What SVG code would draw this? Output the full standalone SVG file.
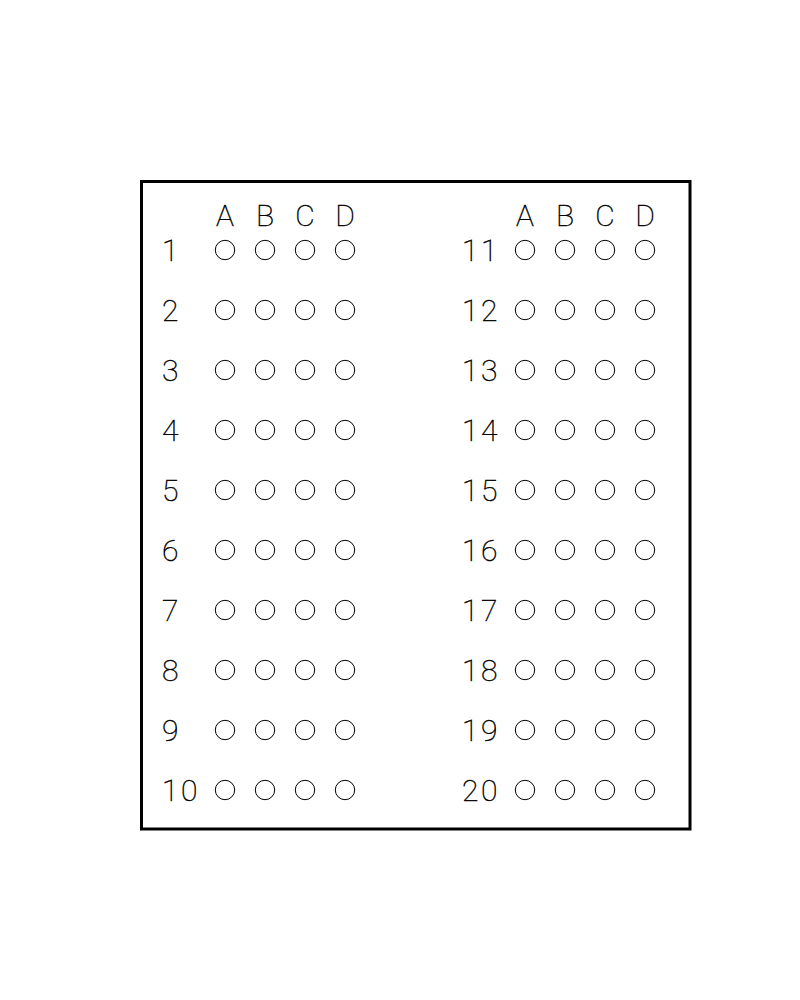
<svg xmlns="http://www.w3.org/2000/svg" width="800" height="1000" viewBox="0 0 800 1000">
<style>
.t{font-family:"Roboto","DejaVu Sans","Liberation Sans",sans-serif;font-weight:100;font-size:30px;fill:#000;stroke:#000;stroke-width:0.45}
.h{text-anchor:middle}
.n{letter-spacing:2.5px}
.b{fill:none;stroke:#000;stroke-width:1}
</style>
<defs>
<g id="bubbles">
<circle class="b" cx="0" cy="0" r="9.7"/>
<circle class="b" cx="40" cy="0" r="9.7"/>
<circle class="b" cx="80" cy="0" r="9.7"/>
<circle class="b" cx="120" cy="0" r="9.7"/>
</g>
</defs>
<rect width="800" height="1000" fill="#fff"/>
<rect id="frame" x="141.5" y="181.5" width="548.5" height="647.5" fill="none" stroke="#000" stroke-width="3"/>
<g id="header-left">
<text class="t h" x="225" y="226">A</text><text class="t h" x="265" y="226">B</text><text class="t h" x="305" y="226">C</text><text class="t h" x="345" y="226">D</text>
</g>
<g id="header-right">
<text class="t h" x="525" y="226">A</text><text class="t h" x="565" y="226">B</text><text class="t h" x="605" y="226">C</text><text class="t h" x="645" y="226">D</text>
</g>
<g id="q1"><text class="t n" x="162" y="261">1</text><use href="#bubbles" x="225" y="250"/></g>
<g id="q2"><text class="t n" x="162" y="321">2</text><use href="#bubbles" x="225" y="310"/></g>
<g id="q3"><text class="t n" x="162" y="381">3</text><use href="#bubbles" x="225" y="370"/></g>
<g id="q4"><text class="t n" x="162" y="441">4</text><use href="#bubbles" x="225" y="430"/></g>
<g id="q5"><text class="t n" x="162" y="501">5</text><use href="#bubbles" x="225" y="490"/></g>
<g id="q6"><text class="t n" x="162" y="561">6</text><use href="#bubbles" x="225" y="550"/></g>
<g id="q7"><text class="t n" x="162" y="621">7</text><use href="#bubbles" x="225" y="610"/></g>
<g id="q8"><text class="t n" x="162" y="681">8</text><use href="#bubbles" x="225" y="670"/></g>
<g id="q9"><text class="t n" x="162" y="741">9</text><use href="#bubbles" x="225" y="730"/></g>
<g id="q10"><text class="t n" x="162" y="801">10</text><use href="#bubbles" x="225" y="790"/></g>
<g id="q11"><text class="t n" x="462" y="261">11</text><use href="#bubbles" x="525" y="250"/></g>
<g id="q12"><text class="t n" x="462" y="321">12</text><use href="#bubbles" x="525" y="310"/></g>
<g id="q13"><text class="t n" x="462" y="381">13</text><use href="#bubbles" x="525" y="370"/></g>
<g id="q14"><text class="t n" x="462" y="441">14</text><use href="#bubbles" x="525" y="430"/></g>
<g id="q15"><text class="t n" x="462" y="501">15</text><use href="#bubbles" x="525" y="490"/></g>
<g id="q16"><text class="t n" x="462" y="561">16</text><use href="#bubbles" x="525" y="550"/></g>
<g id="q17"><text class="t n" x="462" y="621">17</text><use href="#bubbles" x="525" y="610"/></g>
<g id="q18"><text class="t n" x="462" y="681">18</text><use href="#bubbles" x="525" y="670"/></g>
<g id="q19"><text class="t n" x="462" y="741">19</text><use href="#bubbles" x="525" y="730"/></g>
<g id="q20"><text class="t n" x="462" y="801">20</text><use href="#bubbles" x="525" y="790"/></g>
</svg>
